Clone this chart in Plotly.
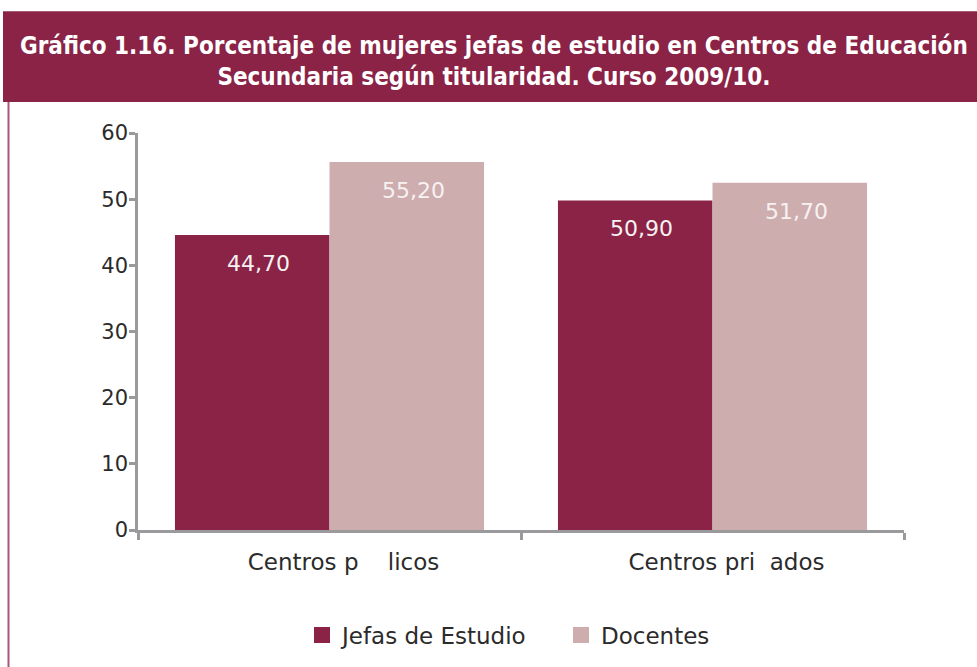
import plotly.graph_objects as go

categories = ["Centros p\u00a0\u00a0\u00a0\u00a0licos", "Centros pri\u00a0\u00a0ados"]
series_names = ["Jefas de Estudio", "Docentes"]
jefas_values = [44.6, 49.8]
docentes_values = [55.6, 52.5]
jefas_labels = ["44,70", "50,90"]
docentes_labels = ["55,20", "51,70"]
y_ticks = [0, 10, 20, 30, 40, 50, 60]

title_text = ("Gráfico 1.16. Porcentaje de mujeres jefas de estudio en Centros de Educación<br>"
              "Secundaria según titularidad. Curso 2009/10.")

C_JEFAS = "#8A2346"
C_DOC = "#CEADAF"
AXIS = "#9A9A9C"
TXT = "#2B2B2B"
FONT = "DejaVu Sans, Verdana, sans-serif"
TITLE_FONT = "DejaVu Sans Condensed, DejaVu Sans, sans-serif"

W, H = 977, 667
L, R, T, B = 138, 73, 133, 136
pw = W - L - R
ph = H - T - B

def px_x(p):
    return (p - L) / pw

def px_y(p):
    return (H - B - p) / ph

fig = go.Figure()
fig.add_trace(go.Bar(x=categories, y=jefas_values, name=series_names[0], showlegend=False,
                     marker=dict(color=C_JEFAS, line=dict(width=0))))
fig.add_trace(go.Bar(x=categories, y=docentes_values, name=series_names[1], showlegend=False,
                     marker=dict(color=C_DOC, line=dict(width=0))))
# legend entries with larger square swatches
for name, col in zip(series_names, [C_JEFAS, C_DOC]):
    fig.add_trace(go.Scatter(x=[None], y=[None], mode="markers", name=name,
                             marker=dict(symbol="square", size=16, color=col)))

annotations = []
for vals, labs, shift in [(jefas_values, jefas_labels, -71), (docentes_values, docentes_labels, 84)]:
    for c, v, lab in zip(categories, vals, labs):
        annotations.append(dict(x=c, y=v, xref="x", yref="y", text=lab, showarrow=False,
                                yanchor="top", xanchor="center", xshift=shift, yshift=-14,
                                font=dict(family=FONT, size=22, color="#F7F2F2")))

annotations.append(dict(x=px_x(494), y=px_y(61), xref="paper", yref="paper",
                        text="<b>" + title_text + "</b>", showarrow=False,
                        xanchor="center", yanchor="middle", align="center",
                        font=dict(family=TITLE_FONT, size=24, color="white")))

shapes = [
    dict(type="rect", xref="paper", yref="paper", x0=px_x(3), x1=px_x(985), y0=px_y(102), y1=px_y(11),
         fillcolor=C_JEFAS, line=dict(width=0), layer="below"),
    dict(type="line", xref="paper", yref="paper", x0=px_x(8.5), x1=px_x(8.5), y0=px_y(102), y1=px_y(670),
         line=dict(color="#A8587A", width=2)),
]

fig.update_layout(
    width=W, height=H,
    margin=dict(l=L, r=R, t=T, b=B, pad=0),
    paper_bgcolor="white", plot_bgcolor="white",
    barmode="group", bargap=0.193, bargroupgap=0,
    showlegend=True,
    legend=dict(orientation="h", x=px_x(561), y=px_y(635), xanchor="center", yanchor="middle",
                font=dict(family=FONT, size=23, color=TXT), entrywidth=214,
                traceorder="normal", itemclick=False),
    annotations=annotations,
    shapes=shapes,
    font=dict(family=FONT, color=TXT),
)
fig.update_xaxes(showline=True, linecolor=AXIS, linewidth=2.5, ticks="outside", ticklen=7,
                 tickcolor=AXIS, tickwidth=2.5, tickson="boundaries", showgrid=False,
                 tickfont=dict(family=FONT, size=23, color=TXT), ticklabelstandoff=10,
                 ticklabelshift=14, range=[-0.5, 1.5])
fig.update_yaxes(showline=True, linecolor=AXIS, linewidth=2.5, ticks="outside", ticklen=6,
                 tickcolor=AXIS, tickwidth=2.5, showgrid=False, zeroline=False,
                 tickvals=y_ticks, range=[0, 60],
                 tickfont=dict(family=FONT, size=21, color=TXT), ticklabelstandoff=-3)

fig.write_html("out.html", config={"displayModeBar": False},
               post_script="document.body.style.margin='0';")
